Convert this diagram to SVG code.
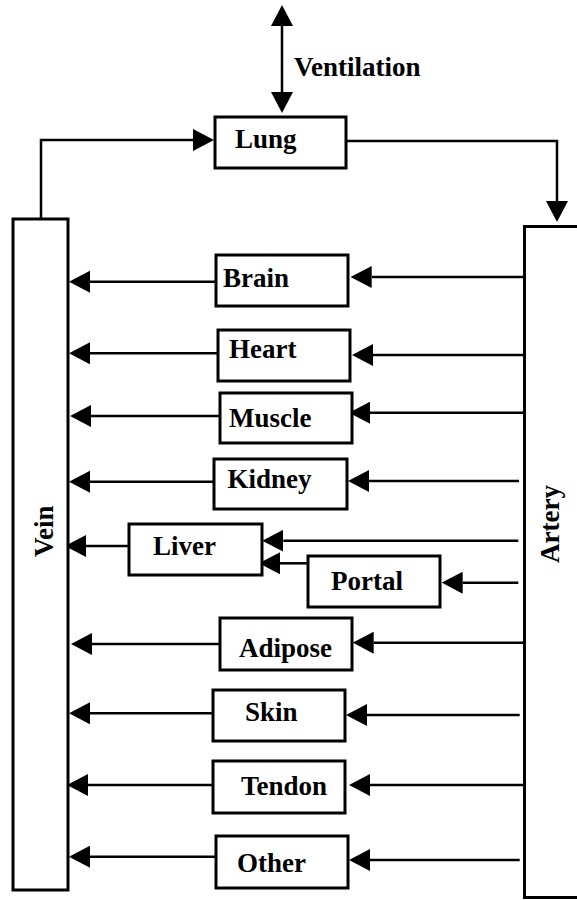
<svg xmlns="http://www.w3.org/2000/svg" width="577" height="900" viewBox="0 0 577 900">
<style>
.box{fill:#fff;stroke:#000;stroke-width:3}
.lbl{font-family:"Liberation Serif","Times New Roman",serif;font-weight:bold;font-size:27px;fill:#000}
.con{fill:none;stroke:#000;stroke-width:2.5}
.arr{marker-end:url(#ah)}
</style>
<defs>
<marker id="ah" markerUnits="userSpaceOnUse" markerWidth="21" markerHeight="22" viewBox="0 0 21 22" refX="0" refY="11" orient="auto-start-reverse">
<path d="M0,0 L21,11 L0,22 z" fill="#000"/>
</marker>
</defs>
<rect width="577" height="900" fill="#fff"/>
<g id="connectors">
<line class="con" x1="282" y1="26" x2="282" y2="92" marker-start="url(#ah)" marker-end="url(#ah)"/>
<polyline class="con arr" points="41,219 41,140 193,140"/>
<polyline class="con arr" points="346,141 557,141 557,201"/>
<line class="con arr" x1="216" y1="281.7" x2="90" y2="281.7"/>
<line class="con arr" x1="218" y1="353.3" x2="90" y2="353.3"/>
<line class="con arr" x1="220" y1="416" x2="91" y2="416"/>
<line class="con arr" x1="214" y1="481.7" x2="90" y2="481.7"/>
<line class="con arr" x1="129" y1="546" x2="86" y2="546"/>
<line class="con arr" x1="220" y1="644" x2="92" y2="644"/>
<line class="con arr" x1="213" y1="713.3" x2="90" y2="713.3"/>
<line class="con arr" x1="213" y1="785" x2="88" y2="785"/>
<line class="con arr" x1="216" y1="856.7" x2="90" y2="856.7"/>
<line class="con arr" x1="524" y1="277" x2="371.7" y2="277"/>
<line class="con arr" x1="524" y1="355" x2="373" y2="355"/>
<line class="con arr" x1="524" y1="412.7" x2="370" y2="412.7"/>
<line class="con arr" x1="519" y1="481" x2="369" y2="481"/>
<line class="con arr" x1="518.3" y1="540.7" x2="283.3" y2="540.7"/>
<line class="con arr" x1="308" y1="563.3" x2="280" y2="563.3"/>
<line class="con arr" x1="518.3" y1="582.7" x2="462.7" y2="582.7"/>
<line class="con arr" x1="524" y1="642.7" x2="373.7" y2="642.7"/>
<line class="con arr" x1="519.7" y1="715" x2="367" y2="715"/>
<line class="con arr" x1="523" y1="785" x2="370" y2="785"/>
<line class="con arr" x1="519.7" y1="860" x2="370" y2="860"/>
</g>
<g id="ventilation"><text class="lbl" x="294" y="76">Ventilation</text></g>
<g id="lung"><rect class="box" x="215" y="117" width="131" height="51"/><text class="lbl" x="235" y="148">Lung</text></g>
<g id="vein"><rect class="box" x="13" y="219" width="55" height="671"/><text class="lbl" transform="translate(53,557) rotate(-90)">Vein</text></g>
<g id="artery"><rect class="box" x="524.5" y="226.5" width="60" height="671"/><text class="lbl" transform="translate(559,563) rotate(-90)">Artery</text></g>
<g id="brain"><rect class="box" x="216" y="255" width="132" height="51"/><text class="lbl" x="223" y="287">Brain</text></g>
<g id="heart"><rect class="box" x="218" y="330" width="132" height="51"/><text class="lbl" x="229" y="358">Heart</text></g>
<g id="muscle"><rect class="box" x="220" y="393" width="132" height="50"/><text class="lbl" x="229" y="427">Muscle</text></g>
<g id="kidney"><rect class="box" x="214" y="459" width="133" height="50"/><text class="lbl" x="227.5" y="488">Kidney</text></g>
<g id="liver"><rect class="box" x="129" y="524" width="133" height="51"/><text class="lbl" x="153" y="555">Liver</text></g>
<g id="portal"><rect class="box" x="308" y="556" width="132" height="51"/><text class="lbl" x="331" y="590">Portal</text></g>
<g id="adipose"><rect class="box" x="220" y="618" width="132" height="52"/><text class="lbl" x="239" y="657">Adipose</text></g>
<g id="skin"><rect class="box" x="213" y="690" width="132" height="51"/><text class="lbl" x="245" y="721">Skin</text></g>
<g id="tendon"><rect class="box" x="213" y="761" width="132" height="52"/><text class="lbl" x="241" y="795">Tendon</text></g>
<g id="other"><rect class="box" x="216" y="836" width="132" height="52"/><text class="lbl" x="237" y="872">Other</text></g>
</svg>
